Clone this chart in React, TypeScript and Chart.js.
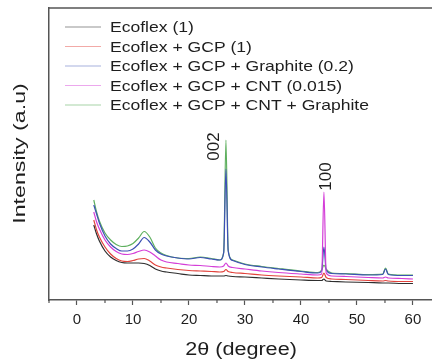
import React, { useEffect, useRef } from 'react';
import { Chart, registerables } from 'chart.js';

Chart.register(...registerables);

// 2θ positions (degree)
const theta = [3, 3.5, 4, 5, 6, 7, 8, 9, 10, 11, 12, 13, 14, 15, 16, 18, 20, 22, 24, 25.5, 26.2, 26.6, 27.0, 27.8, 30, 33, 36, 40, 43, 43.7, 44.1, 44.5, 45.5, 48, 52, 54.6, 55.1, 55.6, 58, 60];

const ecoflex = [75, 66, 59, 49, 43, 39.5, 37.5, 37, 37, 37, 36.5, 34.5, 31, 29, 28, 26.5, 25, 24.5, 24, 24, 24, 24.5, 24, 23.5, 23, 22, 21, 20, 19.5, 19.5, 21, 19, 18.5, 18, 17.5, 17, 17, 17, 16.5, 16.5];
const ecoflexGcp = [80, 70, 63, 53, 46, 41.5, 39, 38.5, 39.5, 41, 41.5, 39, 35, 33, 32, 30.5, 29.5, 29, 28.5, 28, 28.5, 30.5, 28.5, 27.5, 26.5, 25, 24, 23, 22, 22.5, 27, 22.5, 21, 20.5, 19.5, 19, 19.5, 19, 18.5, 18.5];
const gcpGraphite = [95, 86, 77, 64, 56, 51.5, 49, 49, 51, 56, 62.5, 58, 50, 46, 44, 42, 41, 42.5, 41, 40, 47, 131, 49, 39.5, 35.5, 33, 31, 28.5, 27, 29, 53, 30, 26.5, 26, 25, 25.5, 31, 25.5, 24.5, 24.5];
const gcpCnt = [88, 78, 71, 60, 53, 48.5, 46, 45.5, 46.5, 48.5, 50, 48, 44, 40, 38, 36.5, 35, 34.5, 33.5, 33, 34, 37, 34, 32.5, 31, 29, 27.5, 26, 25, 26, 108, 27, 24, 23.5, 22.5, 22, 23, 22, 21.5, 21];
const gcpCntGraphite = [100, 88, 79, 67, 60, 55.5, 53.5, 54, 56.5, 62, 68.5, 63, 52, 47, 44.5, 42, 41.5, 43, 41.5, 40, 48, 160, 50, 40, 36, 33.5, 31.5, 29, 27.5, 30, 35, 31, 27, 26.5, 25.5, 26, 32, 26, 25, 25];

const seriesLabels = [
  'Ecoflex (1)',
  'Ecoflex + GCP (1)',
  'Ecoflex + GCP + Graphite (0.2)',
  'Ecoflex + GCP + CNT (0.015)',
  'Ecoflex + GCP + CNT + Graphite',
];
const seriesValues = [ecoflex, ecoflexGcp, gcpGraphite, gcpCnt, gcpCntGraphite];
const seriesColors = ['#2e2e2e', '#e2433c', '#3c50b4', '#d43ed8', '#5fb05f'];
const legendColors = ['rgba(60,60,60,0.55)', 'rgba(226,67,60,0.45)', 'rgba(60,80,180,0.45)', 'rgba(212,62,216,0.45)', 'rgba(95,176,95,0.55)'];

const xTickLabels = [0, 10, 20, 30, 40, 50, 60];

const peakLabels = ['002', '100'];
const peakLabelX = [24.6, 44.55];
const peakLabelY = [153.5, 123.5];

const xTitle = '2θ (degree)';
const yTitle = 'Intensity (a.u)';

const FONT = '"Liberation Sans", Arial, Helvetica, sans-serif';

function drawText(ctx: CanvasRenderingContext2D, text: string, x: number, y: number, size: number, sx: number, rot: number, align: CanvasTextAlign, baseline: CanvasTextBaseline) {
  ctx.save();
  ctx.translate(x, y);
  ctx.rotate(rot);
  ctx.scale(sx, 1);
  ctx.font = `${size}px ${FONT}`;
  ctx.textAlign = align;
  ctx.textBaseline = baseline;
  ctx.fillStyle = '#1e1e1e';
  ctx.fillText(text, 0, 0);
  ctx.restore();
}

export default function App() {
  const ref = useRef<HTMLCanvasElement>(null);

  useEffect(() => {
    const canvas = ref.current;
    if (!canvas) return;

    const deco = {
      id: 'deco',
      afterDraw(chart: any) {
        const ctx: CanvasRenderingContext2D = chart.ctx;
        const a = chart.chartArea;
        const xs = chart.scales.x;
        const ys = chart.scales.y;
        ctx.save();
        // top frame line
        ctx.strokeStyle = '#555';
        ctx.lineWidth = 1.5;
        ctx.beginPath();
        ctx.moveTo(a.left, a.top);
        ctx.lineTo(a.right, a.top);
        ctx.stroke();
        // minor ticks
        ctx.lineWidth = 1.2;
        for (let v = -5; v <= 60; v += 10) {
          const px = xs.getPixelForValue(v);
          ctx.beginPath();
          ctx.moveTo(px, a.bottom);
          ctx.lineTo(px, a.bottom + 3);
          ctx.stroke();
        }
        // legend
        seriesLabels.forEach((lab, i) => {
          const cy = a.top + 19 + i * 19.5;
          ctx.strokeStyle = legendColors[i];
          ctx.lineWidth = 1;
          ctx.beginPath();
          ctx.moveTo(a.left + 16, cy);
          ctx.lineTo(a.left + 52, cy);
          ctx.stroke();
          drawText(ctx, lab, a.left + 61, cy + 1, 15, 1.17, 0, 'left', 'middle');
        });
        // peak labels
        peakLabels.forEach((lab, i) => {
          const px = xs.getPixelForValue(peakLabelX[i]);
          const py = ys.getPixelForValue(peakLabelY[i]);
          drawText(ctx, lab, px, py, 17, 1, -Math.PI / 2, 'center', 'middle');
        });
        // axis titles
        drawText(ctx, xTitle, 241, 355, 18, 1.2, 0, 'center', 'alphabetic');
        drawText(ctx, yTitle, 25, 153.5, 16, 1.45, -Math.PI / 2, 'center', 'alphabetic');
        ctx.restore();
      },
    };

    const chart = new Chart(canvas, {
      type: 'line',
      data: {
        datasets: seriesLabels.map((label, i) => ({
          label,
          data: theta.map((t, j) => ({ x: t, y: seriesValues[i][j] })),
          borderColor: seriesColors[i],
          backgroundColor: seriesColors[i],
          borderWidth: 1.2,
          pointRadius: 0,
          cubicInterpolationMode: 'monotone' as const,
          fill: false,
          order: [5, 4, 2, 1, 3][i],
        })),
      },
      options: {
        responsive: false,
        animation: false,
        devicePixelRatio: 1,
        layout: { padding: { top: 8, left: 0, right: 0, bottom: 0 } },
        plugins: {
          legend: { display: false },
          tooltip: { enabled: false },
        },
        scales: {
          x: {
            type: 'linear',
            min: -5,
            max: 63.4,
            afterFit: (s: any) => { s.height = 63; },
            afterBuildTicks: (s: any) => {
              s.ticks = xTickLabels.map((v) => ({ value: v }));
            },
            ticks: {
              autoSkip: false,
              maxRotation: 0,
              padding: 6,
              color: '#1e1e1e',
              font: { family: FONT, size: 15 },
              callback: (v: any) => String(v),
            },
            grid: {
              display: true,
              drawOnChartArea: false,
              drawTicks: true,
              tickLength: 5,
              tickColor: '#555',
              tickWidth: 1.2,
            },
            border: { display: true, color: '#555', width: 1.5 },
            title: { display: false },
          },
          y: {
            type: 'linear',
            min: 0,
            max: 292,
            afterFit: (s: any) => { s.width = 49; },
            ticks: { display: false },
            grid: { display: false },
            border: { display: true, color: '#555', width: 1.5 },
            title: { display: false },
          },
        },
      },
      plugins: [deco],
    });

    return () => chart.destroy();
  }, []);

  return (
    <div style={{ position: 'fixed', left: 0, top: 0, width: 432, height: 363, background: '#fff' }}>
      <canvas ref={ref} width={432} height={363} style={{ width: 432, height: 363, display: 'block' }} />
    </div>
  );
}
